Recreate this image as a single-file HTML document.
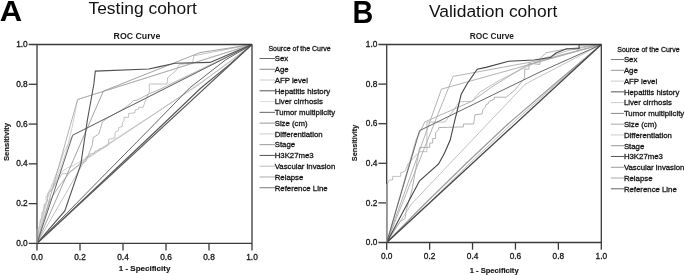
<!DOCTYPE html>
<html><head><meta charset="utf-8"><style>
html,body{margin:0;padding:0;background:#fff;}
body{width:685px;height:275px;overflow:hidden;}
svg{display:block;will-change:transform;filter:blur(0.3px);}
text{font-family:"Liberation Sans",sans-serif;fill:#1a1a1a;}
.big{font-size:28.5px;font-weight:bold;fill:#000;}
.ttl{font-size:17.4px;fill:#111;}
.roc{font-size:8.4px;font-weight:bold;}
.axl{font-size:8px;font-weight:bold;stroke:#111;stroke-width:0.15px;}
.tk{font-size:8.3px;stroke:#111;stroke-width:0.3px;}
.lg{font-size:7.8px;stroke:#111;stroke-width:0.3px;}
.lgh{font-size:7px;stroke:#111;stroke-width:0.28px;}
</style></head><body>
<svg width="685" height="275" viewBox="0 0 685 275">
<text transform="translate(-0.28,21.3) scale(1.06,1)" style="font-size:29.3px" class="big">A</text>
<text transform="translate(352.4,22.5) scale(0.93,1)" style="font-size:31px" class="big">B</text>
<text x="88.5" y="13.7" class="ttl">Testing cohort</text>
<text x="429" y="16.9" class="ttl">Validation cohort</text>
<text x="136.95" y="38.9" text-anchor="middle" class="roc" style="font-size:8.75px">ROC Curve</text>
<text x="491.85" y="39.1" text-anchor="middle" class="roc" style="font-size:8.3px">ROC Curve</text>
<text x="144.6" y="270.9" text-anchor="middle" class="axl" style="font-size:8px">1 - Specificity</text>
<text x="494.15" y="273" text-anchor="middle" class="axl" style="font-size:7.6px">1 - Specificity</text>
<text transform="translate(8.8,142) rotate(-90)" text-anchor="middle" class="axl" style="font-size:7.6px">Sensitivity</text>
<text transform="translate(357.4,142.9) rotate(-90)" text-anchor="middle" class="axl" style="font-size:7.3px">Sensitivity</text>
<polyline points="37.00,243.40 38.50,236.00 38.50,228.00 40.00,228.00 40.00,220.00 42.00,220.00 42.00,212.00 44.00,212.00 44.00,204.00 46.00,204.00 46.00,196.00 49.00,196.00 49.00,190.00 52.00,190.00 52.00,184.00 55.00,184.00 58.00,176.00 62.00,172.00 67.00,168.00 72.00,166.00 78.00,163.00 86.00,158.00 120.00,136.00 160.00,110.00 200.00,83.00 230.00,62.00 252.00,44.50" fill="none" stroke="#ccc" stroke-width="0.9"/>
<polyline points="37.00,243.40 45.00,207.00 50.00,190.00 59.70,165.00 64.00,152.00 72.70,135.20 252.00,44.50" fill="none" stroke="#ccc" stroke-width="0.9"/>
<polyline points="37.00,243.40 47.00,201.00 48.00,194.00 53.00,188.00 61.50,165.00 66.10,152.00 72.00,128.00 77.60,99.50 252.00,44.50" fill="none" stroke="#ccc" stroke-width="0.9"/>
<polyline points="37.00,243.40 85.00,160.00 199.80,84.00 252.00,44.50" fill="none" stroke="#bbb" stroke-width="0.9"/>
<polyline points="37.00,243.40 39.00,228.00 42.00,215.00 44.70,205.00 47.60,201.30 47.60,193.30 52.00,190.00 56.00,183.00 62.20,173.70 67.20,173.70 75.20,167.90 78.20,165.00 82.30,161.40 86.00,159.00 86.00,157.00 90.00,156.00 90.00,154.00 95.00,153.00 95.00,151.00 99.00,150.50 99.00,149.00 102.30,148.60 108.60,145.00 108.60,139.50 115.00,137.70 115.00,132.30 118.60,130.50 118.60,127.70 122.30,126.40 122.30,122.70 124.10,120.90 124.10,117.30 128.60,117.30 128.60,113.60 135.00,112.70 135.00,110.00 138.60,109.10 138.60,107.30 143.20,107.30 144.10,104.50 146.80,97.30 148.60,93.60 149.30,92.00 149.30,84.00 167.00,84.00 167.70,77.60 176.40,70.30 179.30,64.40 192.50,63.00 194.00,55.70 252.00,44.50" fill="none" stroke="#bbb" stroke-width="0.9"/>
<polyline points="37.00,243.40 77.60,99.50 252.00,44.50" fill="none" stroke="#aaa" stroke-width="0.9"/>
<polyline points="37.00,243.40 50.00,200.00 60.00,185.00 70.00,172.00 82.00,163.00 85.90,161.40 92.30,145.00 93.20,137.70 98.60,134.10 100.50,128.60 102.30,122.00 107.00,118.30 115.80,113.20 124.60,108.10 130.00,104.00 133.40,100.80 137.00,100.10 149.50,93.60 158.80,89.80 167.60,85.50 252.00,44.50" fill="none" stroke="#aaa" stroke-width="0.9"/>
<polyline points="37.00,243.40 103.40,91.10 200.00,52.60 252.00,44.50" fill="none" stroke="#999" stroke-width="0.9"/>
<polyline points="37.00,243.40 154.50,124.00 189.60,88.00 225.40,60.00 252.00,44.50" fill="none" stroke="#666" stroke-width="1.0"/>
<polyline points="37.00,243.40 72.70,135.20 252.00,44.50" fill="none" stroke="#666" stroke-width="1.0"/>
<polyline points="37.00,243.40 252.00,44.50" fill="none" stroke="#5a5a5a" stroke-width="1.1"/>
<polyline points="37.00,243.40 120.00,165.00 163.30,124.00 200.90,88.00 230.00,64.10 252.00,44.50" fill="none" stroke="#555" stroke-width="1.1"/>
<polyline points="37.00,243.40 64.80,210.90 80.80,164.40 87.40,120.00 93.90,84.00 95.30,71.10 148.80,69.00 157.50,67.10 175.00,63.30 210.00,62.40 252.00,44.50" fill="none" stroke="#505050" stroke-width="1.1"/>
<polyline points="386.70,242.50 428.00,204.00 469.00,164.00 511.50,124.00 556.50,84.00 601.30,44.50" fill="none" stroke="#bbb" stroke-width="1.0"/>
<polyline points="386.70,242.50 411.50,204.00 525.40,84.00 601.30,44.50" fill="none" stroke="#bbb" stroke-width="0.9"/>
<polyline points="386.70,242.50 387.30,183.70 389.60,180.00 392.60,180.00 392.60,176.40 400.60,176.40 400.60,172.80 405.00,171.30 407.90,164.00 419.60,151.70 426.90,151.70 426.90,122.10 445.00,122.10 459.50,101.80 471.80,101.30 480.00,92.00 500.00,80.00 520.00,70.00 545.00,58.00 570.00,50.00 601.30,44.50" fill="none" stroke="#bbb" stroke-width="0.9"/>
<polyline points="386.70,242.50 453.10,76.40 540.00,60.40 601.30,44.50" fill="none" stroke="#aaa" stroke-width="0.9"/>
<polyline points="386.70,242.50 441.50,89.10 601.30,44.50" fill="none" stroke="#aaa" stroke-width="0.9"/>
<polyline points="386.70,242.50 416.00,140.00 424.80,121.90 471.80,101.30 493.20,86.00 527.60,64.80 601.30,44.50" fill="none" stroke="#aaa" stroke-width="0.9"/>
<polyline points="386.70,242.50 400.00,221.50 405.00,218.60 406.40,209.80 412.00,190.00 419.60,147.40 429.80,147.40 429.80,143.00 432.70,143.00 432.70,138.60 435.60,138.60 435.60,132.80 438.60,129.80 438.60,127.60 463.40,126.90 463.40,124.00 473.60,124.00 475.00,114.70 482.00,114.00 483.00,109.50 485.00,107.50 486.00,104.40 488.10,103.90 489.10,101.30 494.20,99.30 494.20,97.20 506.00,97.20 515.00,90.00 524.70,77.90 524.70,69.10 529.00,69.10 529.00,63.30 540.00,64.40 540.00,58.60 545.90,52.80 560.00,50.00 601.30,44.50" fill="none" stroke="#aaa" stroke-width="0.9"/>
<polyline points="386.70,242.50 424.70,204.00 465.60,164.00 507.90,124.00 554.60,84.00 601.30,44.50" fill="none" stroke="#999" stroke-width="1.1"/>
<polyline points="386.70,242.50 419.60,130.60 492.60,95.00 540.00,72.00 601.30,44.50" fill="none" stroke="#666" stroke-width="1.0"/>
<polyline points="386.70,242.50 601.30,44.50" fill="none" stroke="#444" stroke-width="1.3"/>
<polyline points="386.70,242.50 407.20,204.00 419.60,180.80 438.60,164.00 444.40,153.20 450.20,140.00 453.90,124.00 457.50,109.50 461.20,94.20 467.00,84.00 477.20,69.30 486.00,67.40 508.60,61.30 534.00,60.00 550.40,57.60 556.00,53.00 566.60,48.80 579.10,48.60 579.10,44.70 601.30,44.50" fill="none" stroke="#444" stroke-width="1.1"/>
<line x1="28.7" y1="44.5" x2="252" y2="44.5" stroke="#3a3a3a" stroke-width="1.3"/>
<line x1="28.7" y1="243.4" x2="252" y2="243.4" stroke="#3a3a3a" stroke-width="1.3"/>
<line x1="37" y1="44.5" x2="37" y2="250.6" stroke="#3a3a3a" stroke-width="1.3"/>
<line x1="252" y1="44.5" x2="252" y2="250.6" stroke="#3a3a3a" stroke-width="1.3"/>
<line x1="28.7" y1="203.62" x2="37" y2="203.62" stroke="#3a3a3a" stroke-width="1.3"/>
<line x1="80.00" y1="243.4" x2="80.00" y2="250.6" stroke="#3a3a3a" stroke-width="1.3"/>
<line x1="28.7" y1="163.84" x2="37" y2="163.84" stroke="#3a3a3a" stroke-width="1.3"/>
<line x1="123.00" y1="243.4" x2="123.00" y2="250.6" stroke="#3a3a3a" stroke-width="1.3"/>
<line x1="28.7" y1="124.06" x2="37" y2="124.06" stroke="#3a3a3a" stroke-width="1.3"/>
<line x1="166.00" y1="243.4" x2="166.00" y2="250.6" stroke="#3a3a3a" stroke-width="1.3"/>
<line x1="28.7" y1="84.28" x2="37" y2="84.28" stroke="#3a3a3a" stroke-width="1.3"/>
<line x1="209.00" y1="243.4" x2="209.00" y2="250.6" stroke="#3a3a3a" stroke-width="1.3"/>
<text x="27.70" y="246.00" text-anchor="end" class="tk">0.0</text>
<text x="37.00" y="260.40" text-anchor="middle" class="tk">0.0</text>
<text x="27.70" y="206.22" text-anchor="end" class="tk">0.2</text>
<text x="80.00" y="260.40" text-anchor="middle" class="tk">0.2</text>
<text x="27.70" y="166.44" text-anchor="end" class="tk">0.4</text>
<text x="123.00" y="260.40" text-anchor="middle" class="tk">0.4</text>
<text x="27.70" y="126.66" text-anchor="end" class="tk">0.6</text>
<text x="166.00" y="260.40" text-anchor="middle" class="tk">0.6</text>
<text x="27.70" y="86.88" text-anchor="end" class="tk">0.8</text>
<text x="209.00" y="260.40" text-anchor="middle" class="tk">0.8</text>
<text x="27.70" y="47.10" text-anchor="end" class="tk">1.0</text>
<text x="252.00" y="260.40" text-anchor="middle" class="tk">1.0</text>
<line x1="378.4" y1="44.5" x2="601.3" y2="44.5" stroke="#3a3a3a" stroke-width="1.3"/>
<line x1="378.4" y1="242.5" x2="601.3" y2="242.5" stroke="#3a3a3a" stroke-width="1.3"/>
<line x1="386.7" y1="44.5" x2="386.7" y2="249.7" stroke="#3a3a3a" stroke-width="1.3"/>
<line x1="601.3" y1="44.5" x2="601.3" y2="249.7" stroke="#3a3a3a" stroke-width="1.3"/>
<line x1="378.4" y1="202.90" x2="386.7" y2="202.90" stroke="#3a3a3a" stroke-width="1.3"/>
<line x1="429.62" y1="242.5" x2="429.62" y2="249.7" stroke="#3a3a3a" stroke-width="1.3"/>
<line x1="378.4" y1="163.30" x2="386.7" y2="163.30" stroke="#3a3a3a" stroke-width="1.3"/>
<line x1="472.54" y1="242.5" x2="472.54" y2="249.7" stroke="#3a3a3a" stroke-width="1.3"/>
<line x1="378.4" y1="123.70" x2="386.7" y2="123.70" stroke="#3a3a3a" stroke-width="1.3"/>
<line x1="515.46" y1="242.5" x2="515.46" y2="249.7" stroke="#3a3a3a" stroke-width="1.3"/>
<line x1="378.4" y1="84.10" x2="386.7" y2="84.10" stroke="#3a3a3a" stroke-width="1.3"/>
<line x1="558.38" y1="242.5" x2="558.38" y2="249.7" stroke="#3a3a3a" stroke-width="1.3"/>
<text x="377.40" y="245.10" text-anchor="end" class="tk">0.0</text>
<text x="386.70" y="258.80" text-anchor="middle" class="tk">0.0</text>
<text x="377.40" y="205.50" text-anchor="end" class="tk">0.2</text>
<text x="429.62" y="258.80" text-anchor="middle" class="tk">0.2</text>
<text x="377.40" y="165.90" text-anchor="end" class="tk">0.4</text>
<text x="472.54" y="258.80" text-anchor="middle" class="tk">0.4</text>
<text x="377.40" y="126.30" text-anchor="end" class="tk">0.6</text>
<text x="515.46" y="258.80" text-anchor="middle" class="tk">0.6</text>
<text x="377.40" y="86.70" text-anchor="end" class="tk">0.8</text>
<text x="558.38" y="258.80" text-anchor="middle" class="tk">0.8</text>
<text x="377.40" y="47.10" text-anchor="end" class="tk">1.0</text>
<text x="601.30" y="258.80" text-anchor="middle" class="tk">1.0</text>
<line x1="37" y1="229" x2="37" y2="243" stroke="#aaa" stroke-width="1.3"/>
<line x1="386.7" y1="183.8" x2="386.7" y2="242" stroke="#999" stroke-width="1.3"/>
<text x="268.4" y="51.2" class="lgh">Source of the Curve</text>
<line x1="259.6" y1="58.50" x2="275.0" y2="58.50" stroke="#666" stroke-width="1"/>
<text x="274.7" y="61.30" class="lg">Sex</text>
<line x1="259.6" y1="69.27" x2="275.0" y2="69.27" stroke="#888" stroke-width="1"/>
<text x="274.7" y="72.07" class="lg">Age</text>
<line x1="259.6" y1="80.04" x2="275.0" y2="80.04" stroke="#ccc" stroke-width="1"/>
<text x="274.7" y="82.84" class="lg">AFP level</text>
<line x1="259.6" y1="90.81" x2="275.0" y2="90.81" stroke="#555" stroke-width="1"/>
<text x="274.7" y="93.61" class="lg">Hepatitis history</text>
<line x1="259.6" y1="101.58" x2="275.0" y2="101.58" stroke="#ddd" stroke-width="1"/>
<text x="274.7" y="104.38" class="lg">Liver cirrhosis</text>
<line x1="259.6" y1="112.35" x2="275.0" y2="112.35" stroke="#666" stroke-width="1"/>
<text x="274.7" y="115.15" class="lg">Tumor multiplicity</text>
<line x1="259.6" y1="123.12" x2="275.0" y2="123.12" stroke="#999" stroke-width="1"/>
<text x="274.7" y="125.92" class="lg">Size (cm)</text>
<line x1="259.6" y1="133.89" x2="275.0" y2="133.89" stroke="#ccc" stroke-width="1"/>
<text x="274.7" y="136.69" class="lg">Differentiation</text>
<line x1="259.6" y1="144.66" x2="275.0" y2="144.66" stroke="#999" stroke-width="1"/>
<text x="274.7" y="147.46" class="lg">Stage</text>
<line x1="259.6" y1="155.43" x2="275.0" y2="155.43" stroke="#555" stroke-width="1"/>
<text x="274.7" y="158.23" class="lg">H3K27me3</text>
<line x1="259.6" y1="166.20" x2="275.0" y2="166.20" stroke="#bbb" stroke-width="1"/>
<text x="274.7" y="169.00" class="lg">Vascular invasion</text>
<line x1="259.6" y1="176.97" x2="275.0" y2="176.97" stroke="#aaa" stroke-width="1"/>
<text x="274.7" y="179.77" class="lg">Relapse</text>
<line x1="259.6" y1="187.74" x2="275.0" y2="187.74" stroke="#777" stroke-width="1"/>
<text x="274.7" y="190.54" class="lg">Reference Line</text>
<text x="617.3" y="52.2" class="lgh">Source of the Curve</text>
<line x1="610.9" y1="59.55" x2="624.2" y2="59.55" stroke="#777" stroke-width="1"/>
<text x="623.9" y="62.35" class="lg">Sex</text>
<line x1="610.9" y1="70.32" x2="624.2" y2="70.32" stroke="#999" stroke-width="1"/>
<text x="623.9" y="73.12" class="lg">Age</text>
<line x1="610.9" y1="81.09" x2="624.2" y2="81.09" stroke="#ccc" stroke-width="1"/>
<text x="623.9" y="83.89" class="lg">AFP level</text>
<line x1="610.9" y1="91.86" x2="624.2" y2="91.86" stroke="#555" stroke-width="1"/>
<text x="623.9" y="94.66" class="lg">Hepatitis history</text>
<line x1="610.9" y1="102.63" x2="624.2" y2="102.63" stroke="#ccc" stroke-width="1"/>
<text x="623.9" y="105.43" class="lg">Liver cirrhosis</text>
<line x1="610.9" y1="113.40" x2="624.2" y2="113.40" stroke="#888" stroke-width="1"/>
<text x="623.9" y="116.20" class="lg">Tumor multiplicity</text>
<line x1="610.9" y1="124.17" x2="624.2" y2="124.17" stroke="#aaa" stroke-width="1"/>
<text x="623.9" y="126.97" class="lg">Size (cm)</text>
<line x1="610.9" y1="134.94" x2="624.2" y2="134.94" stroke="#ccc" stroke-width="1"/>
<text x="623.9" y="137.74" class="lg">Differentiation</text>
<line x1="610.9" y1="145.71" x2="624.2" y2="145.71" stroke="#999" stroke-width="1"/>
<text x="623.9" y="148.51" class="lg">Stage</text>
<line x1="610.9" y1="156.48" x2="624.2" y2="156.48" stroke="#555" stroke-width="1"/>
<text x="623.9" y="159.28" class="lg">H3K27me3</text>
<line x1="610.9" y1="167.25" x2="624.2" y2="167.25" stroke="#999" stroke-width="1"/>
<text x="623.9" y="170.05" class="lg">Vascular invasion</text>
<line x1="610.9" y1="178.02" x2="624.2" y2="178.02" stroke="#aaa" stroke-width="1"/>
<text x="623.9" y="180.82" class="lg">Relapse</text>
<line x1="610.9" y1="188.79" x2="624.2" y2="188.79" stroke="#666" stroke-width="1"/>
<text x="623.9" y="191.59" class="lg">Reference Line</text>
</svg>
</body></html>
